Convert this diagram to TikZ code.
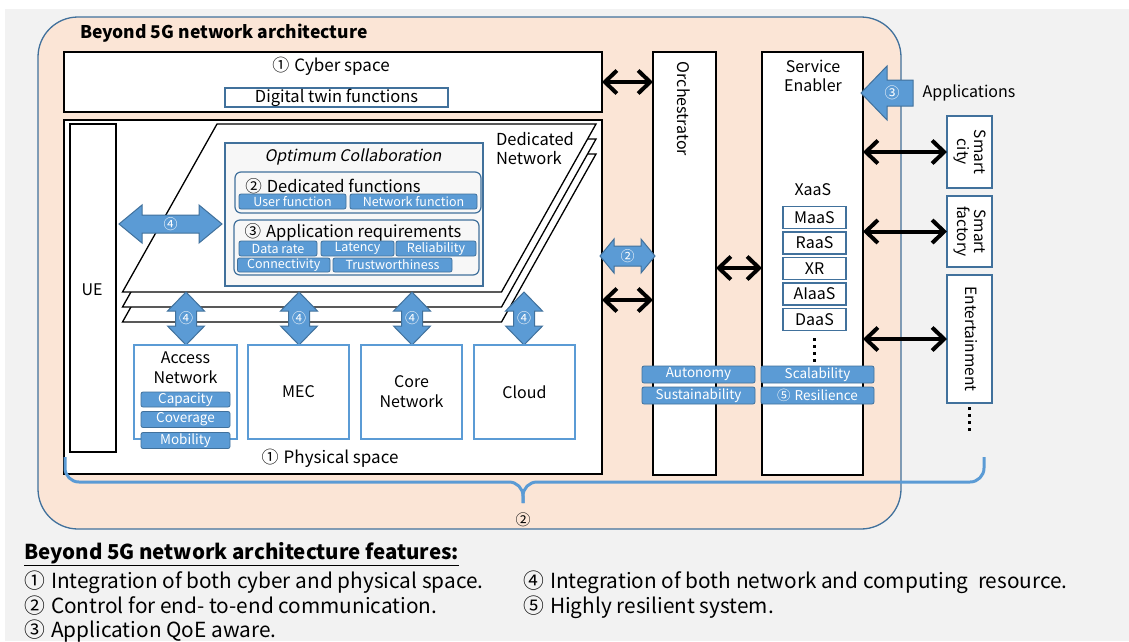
\documentclass[tikz,border=0pt]{standalone}
\usepackage{fontspec}
\setmainfont{Noto Sans CJK JP}
\newfontfamily\slfont{Noto Sans CJK JP}[FakeSlant=0.2]
\usetikzlibrary{arrows.meta}
\definecolor{bgray}{HTML}{F2F2F2}
\definecolor{peach}{HTML}{FBE5D6}
\definecolor{dblue}{HTML}{41719C}
\definecolor{mblue}{HTML}{5B9BD5}
\definecolor{optfill}{HTML}{F7F7F7}
\newcommand\fsz[2]{\fontsize{#1}{#2}\selectfont}
\newcommand\harr[8]{%
  \filldraw[bluearr] ({#2-#4},{#3}) -- ({#2-#4+#5},{#3-#6}) -- ({#2-#4+#5},{#3-#7}) -- ({#2+#4-#5},{#3-#7}) -- ({#2+#4-#5},{#3-#6}) -- ({#2+#4},{#3}) -- ({#2+#4-#5},{#3+#6}) -- ({#2+#4-#5},{#3+#7}) -- ({#2-#4+#5},{#3+#7}) -- ({#2-#4+#5},{#3+#6}) -- cycle;
  \node[albl] (#1) at (#2,#3) {#8};}
\newcommand\varr[8]{%
  \filldraw[bluearr] ({#2},{#3-#4}) -- ({#2+#6},{#3-#4+#5}) -- ({#2+#7},{#3-#4+#5}) -- ({#2+#7},{#3+#4-#5}) -- ({#2+#6},{#3+#4-#5}) -- ({#2},{#3+#4}) -- ({#2-#6},{#3+#4-#5}) -- ({#2-#7},{#3+#4-#5}) -- ({#2-#7},{#3-#4+#5}) -- ({#2-#6},{#3-#4+#5}) -- cycle;
  \node[albl] (#1) at (#2,#3) {#8};}
\newcommand\cgap{\hspace{0.3em}}
\begin{document}
\begin{tikzpicture}[x=1pt,y=-1pt,
  every node/.style={inner sep=0pt, outer sep=0pt},
  font=\fsz{16}{19},
  blk/.style={draw=black, line width=1.5pt, fill=white},
  bbox/.style={draw=mblue, line width=1.2pt, fill=white},
  dbox/.style={draw=dblue, line width=1.3pt, fill=white},
  tag/.style={draw=dblue, fill=mblue, text=white, rounded corners=2pt, line width=0.8pt, font=\fsz{12.5}{14}},
  rbox/.style={draw=dblue, line width=1.2pt, rounded corners=6pt},
  layer/.style={draw=black, line width=1.3pt, fill=white, line join=miter},
  barrow/.style={line width=4pt, {Straight Barb[length=12pt,width=23pt]}-{Straight Barb[length=12pt,width=23pt]}},
  bluearr/.style={fill=mblue, draw=dblue, line width=1pt, line join=miter},
  albl/.style={text=white, font=\fsz{14}{16}},
  dotm/.style={fill=black},
  legend/.style={anchor=base west, font=\fsz{20.8}{24}}
]
\useasboundingbox (0,0) rectangle (1129,641);
\fill[white] (0,0) rectangle (1129,641);
\fill[bgray] (5,9) rectangle (1129,641);

% outer architecture frame
\node[draw=dblue, fill=peach, line width=1.3pt, rounded corners=40pt, minimum width=863pt, minimum height=512pt] (outer) at (469.5,273) {};
\node[anchor=west, font=\bfseries\fsz{17.5}{20}] (title) at (80,33) {Beyond 5G network architecture};

% cyber space
\node[blk, minimum width=538pt, minimum height=60pt] (cyber) at (333,82) {};
\node[font=\fsz{17}{20}] (cybert) at (331,66) {①\cgap Cyber space};
\node[dbox, minimum width=223pt, minimum height=19pt, font=\fsz{16.5}{19}] (dtwin) at (336.5,97.5) {Digital twin functions};

% physical space
\node[blk, minimum width=538pt, minimum height=354pt] (phys) at (333,297) {};
\node[font=\fsz{17}{20}] (physt) at (330,458) {①\cgap Physical space};
\node[blk, line width=1.3pt, minimum width=46pt, minimum height=328pt] (ue) at (93,288) {};
\node (uet) at (92,290) {UE};

% dedicated network layers
\foreach \d in {30,15,0}
  \filldraw[layer] (217,{124+\d}) -- (596,{124+\d}) -- (501.5,{292+\d}) -- (122.5,{292+\d}) -- cycle;
\node[anchor=west, align=left, font=\fsz{16.5}{19}] (dedn) at (496,148.5) {Dedicated\\Network};

% optimum collaboration
\node[draw=dblue, fill=optfill, line width=1.2pt, minimum width=258pt, minimum height=143pt] (opt) at (354,214.5) {};
\node[font=\slfont\fsz{16}{18}] (optt) at (353,157) {Optimum Collaboration};
\node[rbox, minimum width=246pt, minimum height=41pt] (dedf) at (358,192.5) {};
\node[font=\fsz{16.5}{19}] (dedft) at (333,186) {②\cgap Dedicated functions};
\node[tag, minimum width=107pt, minimum height=15pt] (userf) at (292.5,201.5) {User function};
\node[tag, minimum width=127pt, minimum height=15pt] (netf) at (413.5,201.5) {Network function};
\node[rbox, minimum width=245pt, minimum height=55pt] (appr) at (356.5,247.5) {};
\node[font=\fsz{16.5}{19}] (apprt) at (353,232) {③\cgap Application requirements};
\node[tag, minimum width=78pt, minimum height=15pt] (datar) at (278,248.5) {Data rate};
\node[tag, minimum width=73pt, minimum height=15pt] (lat) at (357.5,248.5) {Latency};
\node[tag, minimum width=80pt, minimum height=15pt] (rel) at (436,248.5) {Reliability};
\node[tag, minimum width=92.5pt, minimum height=14pt] (conn) at (283.75,265) {Connectivity};
\node[tag, minimum width=119pt, minimum height=14pt] (trust) at (392.5,265) {Trustworthiness};

% blue integration arrows
\harr{a4h}{170.5}{224}{51.5}{23}{19}{9}{④}
\varr{a4a}{186}{318.5}{26.5}{19}{18.5}{10.5}{④}
\varr{a4b}{299}{318.5}{26.5}{19}{18.5}{10.5}{④}
\varr{a4c}{412}{318.5}{26.5}{19}{18.5}{10.5}{④}
\varr{a4d}{524}{318.5}{26.5}{19}{18.5}{10.5}{④}

% physical resources
\node[bbox, minimum width=103pt, minimum height=94pt] (acc) at (185.5,392) {};
\node[align=center, font=\fsz{16}{20}] (acct) at (185.5,368) {Access\\Network};
\node[tag, minimum width=89pt, minimum height=15pt, font=\fsz{13.5}{15}] (cap) at (185.5,399.5) {Capacity};
\node[tag, minimum width=89pt, minimum height=16pt, font=\fsz{13.5}{15}] (cov) at (185.5,419.5) {Coverage};
\node[tag, minimum width=89pt, minimum height=16pt, font=\fsz{13.5}{15}] (mob) at (185.5,440.5) {Mobility};
\node[bbox, minimum width=101pt, minimum height=94pt] (mec) at (298.5,392) {MEC};
\node[bbox, minimum width=101pt, minimum height=94pt, align=center, font=\fsz{16}{20}] (core) at (411.5,392) {Core\\Network};
\node[bbox, minimum width=101pt, minimum height=94pt] (cloud) at (524.5,392) {Cloud};

% orchestrator
\node[blk, minimum width=63pt, minimum height=423pt] (orch) at (684.5,263.5) {};
\node[rotate=-90] (orcht) at (684,109) {Orchestrator};
\node[tag, minimum width=113pt, minimum height=17pt, font=\fsz{13.5}{15}] (auto) at (698.5,374.5) {Autonomy};
\node[tag, minimum width=113pt, minimum height=17pt, font=\fsz{13.5}{15}] (sust) at (698.5,395.5) {Sustainability};

% service enabler
\node[blk, minimum width=101pt, minimum height=423pt] (se) at (812.5,263.5) {};
\node[align=center, font=\fsz{16}{19}] (set) at (813,75.5) {Service\\Enabler};
\node (xaas) at (813,190) {XaaS};
\node[dbox, minimum width=63pt, minimum height=22pt] (maas) at (814.5,217.5) {MaaS};
\node[dbox, minimum width=63pt, minimum height=22pt] (raas) at (814.5,243) {RaaS};
\node[dbox, minimum width=63pt, minimum height=22pt] (xr) at (814.5,268.5) {XR};
\node[dbox, minimum width=63pt, minimum height=22pt] (aiaas) at (814.5,294) {AIaaS};
\node[dbox, minimum width=63pt, minimum height=22pt] (daas) at (814.5,319.5) {DaaS};
\foreach \yy in {339,346,353,360} \fill[dotm] (812.5,\yy-1.5) rectangle (815.5,\yy+1.5);
\node[tag, minimum width=113pt, minimum height=17pt, font=\fsz{13.5}{15}] (scal) at (817.5,374.5) {Scalability};
\node[tag, minimum width=113pt, minimum height=17pt, font=\fsz{13.5}{15}] (resil) at (817.5,395.5) {⑤\cgap Resilience};

% applications
\node[dbox, minimum width=45pt, minimum height=72pt] (city) at (969.5,152) {};
\node[rotate=-90, align=center, font=\fsz{15.5}{17}] (cityt) at (969.5,152) {Smart\\city};
\node[dbox, minimum width=45pt, minimum height=71pt] (fact) at (969.5,231.5) {};
\node[rotate=-90, align=center, font=\fsz{15.5}{17}] (factt) at (969.5,231.5) {Smart\\factory};
\node[dbox, minimum width=45pt, minimum height=128pt] (ent) at (969.5,339) {};
\node[rotate=-90, font=\fsz{15.5}{17}] (entt) at (971,339) {Entertainment};
\foreach \yy in {408,415,422,429} \fill[dotm] (967.5,\yy-1.5) rectangle (970.5,\yy+1.5);
\filldraw[bluearr] (861,93) -- (887,66) -- (887,80) -- (913,80) -- (913,106) -- (887,106) -- (887,120) -- cycle;
\node[albl, font=\fsz{15}{17}] (a3) at (892,93) {③};
\node (appt) at (969,93) {Applications};

% control arrows
\harr{a2}{627.5}{256}{27.5}{14}{17}{10}{②}
\draw[barrow] (cyber.east) -- (orch.west |- cyber.east);
\draw[barrow] (phys.east |- 0,300) -- (orch.west |- 0,300);
\draw[barrow] (orch.east |- 0,268) -- (se.west |- 0,268);
\draw[barrow] (se.east |- city) -- (city.west);
\draw[barrow] (se.east |- fact) -- (fact.west);
\draw[barrow] (se.east |- ent) -- (ent.west);

% end-to-end brace
\draw[mblue, line width=3pt, rounded corners=14pt] (65,457) |- (523,482) -- (523,503);
\draw[mblue, line width=3pt, rounded corners=14pt] (984,457) |- (523,482) -- (523,503);
\node[font=\fsz{15}{17}] (e2e) at (523,520) {②};

% features legend
\node[anchor=base west, font=\bfseries\fsz{20.5}{23}] (feat) at (24,559) {\underline{Beyond 5G network architecture features:}};
\node[legend] (f1) at (24,588) {①\cgap Integration of both cyber and physical space.};
\node[legend] (f2) at (24,613) {②\cgap Control for end- to-end communication.};
\node[legend] (f3) at (24,637) {③\cgap Application QoE aware.};
\node[legend] (f4) at (523,588) {④\cgap Integration of both network and computing~ resource.};
\node[legend] (f5) at (523,613) {⑤\cgap Highly resilient system.};
\end{tikzpicture}
\end{document}
